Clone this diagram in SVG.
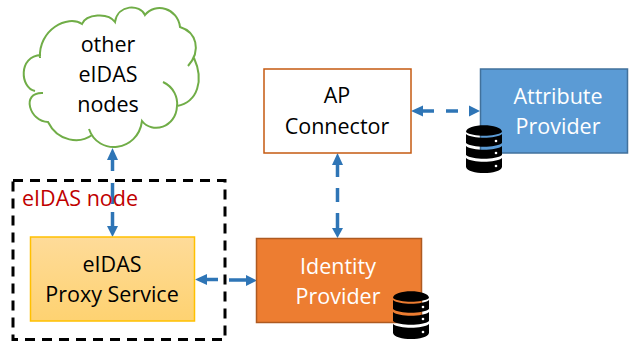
<svg xmlns="http://www.w3.org/2000/svg" width="635" height="341" viewBox="0 0 635 341">
<defs>
<linearGradient id="yg" x1="0" y1="0" x2="0" y2="1"><stop offset="0" stop-color="#fedb99"/><stop offset="1" stop-color="#fed271"/></linearGradient>
<g id="db">
<path d="M0 7C0 -2 36 -2 36 7C30 12 6 12 0 7Z" fill="#000"/>
<path d="M0 9C6 14 30 14 36 9V18C30 23 6 23 0 18Z" fill="#000"/>
<path d="M0 21C6 26 30 26 36 21V30C30 35 6 35 0 30Z" fill="#000"/>
<path d="M0 33C6 38 30 38 36 33V42C34 50 2 50 0 42Z" fill="#000"/>
<circle cx="30" cy="16" r="1.300" fill="#fff"/><circle cx="30" cy="28" r="1.300" fill="#fff"/><circle cx="30" cy="41" r="1.300" fill="#fff"/>
</g>
</defs>
<style>
text{font-family:"Open Sans","Noto Sans","Liberation Sans",sans-serif;font-size:21.500px;text-anchor:middle;fill:#000}
.w{fill:#fff}
.c{fill:none;stroke:#2e75b6;stroke-width:3.500}
.h{fill:#2e75b6}
</style>
<g id="connectors">
<path class="c" d="M112.500 158V171M112.500 183V204M112.500 212V227M206 279.500H218M229 280H247M337.500 163V177M337.500 188V202M337.500 213V228M422 111H434M446 111H458"/>
<path class="h" d="M112.500 148L118 160H107Z"/>
<path class="h" d="M112.500 237L107 226H118Z"/>
<path class="h" d="M195 279.500L207 274V285Z"/>
<path class="h" d="M257 280.500L246 275V286Z"/>
<path class="h" d="M337.500 153L343 165H332Z"/>
<path class="h" d="M337.500 238L332 228H343Z"/>
<path class="h" d="M411 111L423 105.500V116.500Z"/>
<path class="h" d="M480 111L469 105.500V116.500Z"/>
</g>
<g id="cloud">
<path d="M40 58C38 30 68 14 82 24C86 14 108 12 115 22C118 4 140 4 145 15C155 2 178 8 180 27C196 32 202 50 188 66M194 58C204 80 198 102 177 106M163 82C174 87 178 98 177 106C176 128 152 134 142 121C138 152 98 156 89 129M92 135C80 144 58 142 48 122C30 122 20 92 43 93M35 91C20 88 18 56 41 55" fill="none" stroke="#70ad47" stroke-width="2"/>
<text x="108" y="52">other</text><text x="108" y="82">eIDAS</text><text x="108" y="112">nodes</text>
</g>
<g id="eidas-node">
<rect x="13" y="180.500" width="212" height="159" fill="none" stroke="#000" stroke-width="3" stroke-dasharray="10 7"/>
<text x="80" y="206" style="fill:#c00000">eIDAS node</text>
</g>
<g id="proxy-service">
<rect x="30.500" y="237" width="164" height="84" fill="url(#yg)" stroke="#ffc000" stroke-width="1.500"/>
<text x="112" y="272">eIDAS</text><text x="112" y="302">Proxy Service</text>
</g>
<g id="identity-provider">
<rect x="256.500" y="238.500" width="165" height="84" fill="#ed7d31" stroke="#ae5a21" stroke-width="1.500"/>
<text class="w" x="338" y="274">Identity</text><text class="w" x="338" y="304">Provider</text>
<use href="#db" x="393" y="291"/>
</g>
<g id="ap-connector">
<rect x="264" y="69" width="147" height="84" fill="#fff" stroke="#c55a11" stroke-width="1.500"/>
<text x="337" y="103">AP</text><text x="337" y="134">Connector</text>
</g>
<g id="attribute-provider">
<rect x="480.500" y="69" width="147" height="84" fill="#5b9bd5" stroke="#41719c" stroke-width="1.500"/>
<text class="w" x="558" y="104">Attribute</text><text class="w" x="558" y="134">Provider</text>
<use href="#db" x="466" y="125"/>
</g>
</svg>
